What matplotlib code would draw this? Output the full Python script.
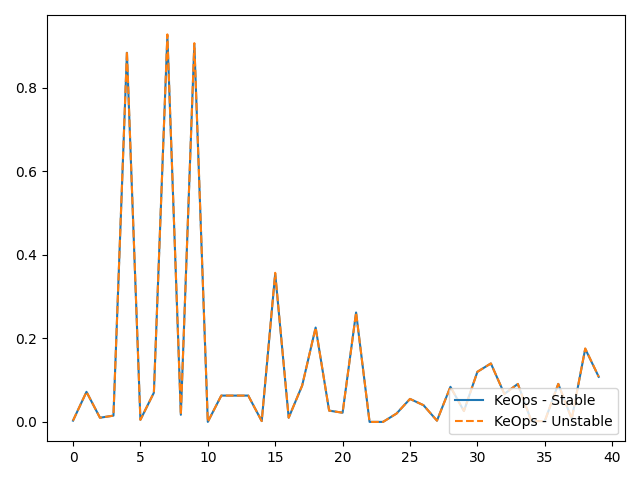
import numpy as np
import matplotlib
matplotlib.use("Agg")
import matplotlib.pyplot as plt

# values
stable = [0.003, 0.072, 0.010, 0.015, 0.884, 0.005, 0.070, 0.925, 0.017, 0.905,
          0.000, 0.063, 0.063, 0.063, 0.002, 0.355, 0.010, 0.087, 0.226, 0.027,
          0.022, 0.262, 0.000, 0.000, 0.020, 0.055, 0.040, 0.003, 0.084, 0.026,
          0.120, 0.140, 0.067, 0.091, 0.002, 0.002, 0.091, 0.007, 0.175, 0.108]
unstable = [0.003, 0.072, 0.010, 0.015, 0.888, 0.005, 0.070, 0.928, 0.017, 0.907,
            0.000, 0.063, 0.063, 0.063, 0.002, 0.357, 0.010, 0.087, 0.226, 0.027,
            0.022, 0.262, 0.000, 0.000, 0.020, 0.055, 0.040, 0.003, 0.084, 0.026,
            0.120, 0.140, 0.067, 0.091, 0.002, 0.002, 0.091, 0.007, 0.176, 0.108]
x = np.arange(len(stable))

plt.figure(figsize=(6.4, 4.8))
plt.plot(x, stable, label="KeOps - Stable")
plt.plot(x, unstable, "--", label="KeOps - Unstable")
plt.legend(loc="lower right")
plt.tight_layout()
plt.savefig("out.png")
